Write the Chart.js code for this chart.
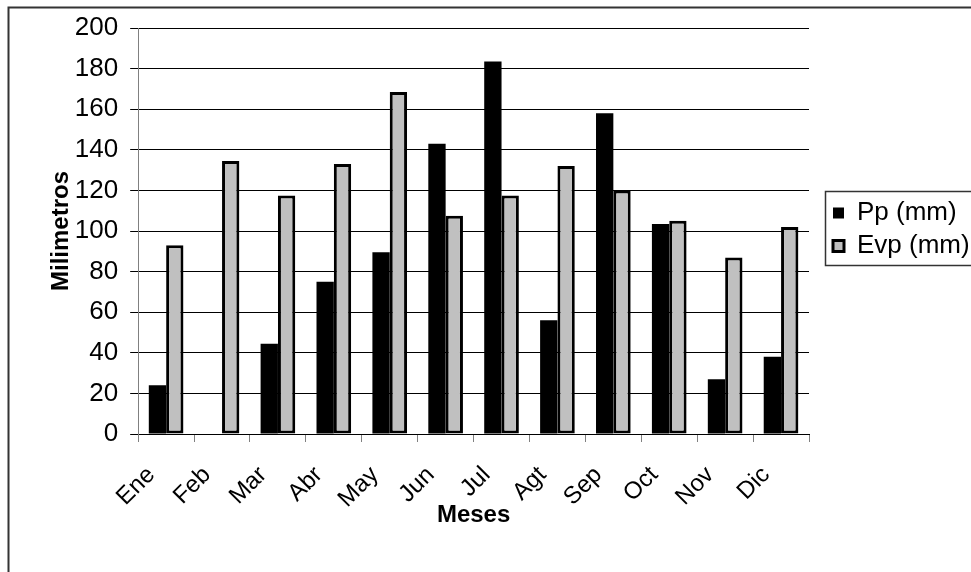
<!DOCTYPE html>
<html>
<head>
<meta charset="utf-8">
<title>Pp y Evp mensual</title>
<script src="https://cdn.jsdelivr.net/npm/chart.js@4.4.1/dist/chart.umd.min.js"></script>
<style>
  html, body { margin: 0; padding: 0; background: #fff; }
  #wrap { position: relative; width: 971px; height: 572px; }
</style>
</head>
<body>
<div id="wrap"><canvas id="balanceChart" width="971" height="572"></canvas></div>
<script>
// Datos (mm)
const meses = ['Ene', 'Feb', 'Mar', 'Abr', 'May', 'Jun', 'Jul', 'Agt', 'Sep', 'Oct', 'Nov', 'Dic'];
const ppMm = [24, 0, 44.5, 75, 89.5, 143, 183.5, 56, 158, 103.5, 27, 38];
const evpMm = [93, 134.5, 117.5, 133, 168.5, 107.5, 117.5, 132, 120, 105, 87, 102];

// Eje Y
const yMin = 0;
const yMax = 200;
const yStep = 20;

const FAMILY = "'Liberation Sans', Arial, sans-serif";

// Fondo blanco y marco exterior del gráfico
const marcoPlugin = {
    id: 'marco',
    beforeDraw(chart) {
        const ctx = chart.ctx;
        ctx.save();
        ctx.fillStyle = '#fff';
        ctx.fillRect(0, 0, chart.width, chart.height);
        ctx.strokeStyle = '#333';
        ctx.lineWidth = 2;
        ctx.strokeRect(8.5, 7.5, chart.width + 20, chart.height + 20);
        ctx.restore();
    }
};

// Leyenda centrada respecto al área de barras + recuadro
const marcoLeyenda = {
    id: 'marcoLeyenda',
    afterLayout(chart) {
        const lg = chart.legend;
        const area = chart.chartArea;
        if (!lg || !area) return;
        lg.top = area.top;
        lg.bottom = area.bottom - 3;
        lg.height = lg.bottom - lg.top;
    },
    afterDraw(chart) {
        const boxes = chart.legend && chart.legend.legendHitBoxes;
        if (!boxes || !boxes.length) return;
        const left = Math.min(...boxes.map(b => b.left)) - 8;
        const top = Math.min(...boxes.map(b => b.top)) - 9;
        const bottom = Math.max(...boxes.map(b => b.top + b.height)) + 6;
        const ctx = chart.ctx;
        ctx.save();
        ctx.strokeStyle = '#333';
        ctx.lineWidth = 1.5;
        ctx.strokeRect(Math.round(left) + 0.5, Math.round(top) + 0.5, chart.width, Math.round(bottom - top));
        ctx.restore();
    }
};

const ctx = document.getElementById('balanceChart').getContext('2d');

new Chart(ctx, {
    type: 'bar',
    data: {
        labels: meses,
        datasets: [
            {
                label: 'Pp (mm)',
                data: ppMm,
                backgroundColor: '#000',
                borderColor: '#000',
                borderWidth: 0
            },
            {
                label: 'Evp (mm)',
                data: evpMm,
                backgroundColor: '#C0C0C0',
                borderColor: '#000',
                borderWidth: 3,
                borderSkipped: false
            }
        ]
    },
    options: {
        responsive: false,
        animation: false,
        datasets: { bar: { categoryPercentage: 0.62, barPercentage: 1 } },
        layout: { padding: { left: 40, right: 0, top: 28, bottom: 32 } },
        plugins: {
            legend: {
                position: 'right',
                maxWidth: 145,
                labels: {
                    boxWidth: 11,
                    boxHeight: 11,
                    padding: 7,
                    color: '#000',
                    font: { family: FAMILY, size: 26 }
                }
            },
            tooltip: { enabled: false }
        },
        scales: {
            x: {
                grid: { offset: true, drawOnChartArea: false, color: '#808080', tickLength: 8 },
                border: { color: '#000', width: 1 },
                ticks: {
                    color: '#000',
                    font: { family: FAMILY, size: 24 },
                    maxRotation: 45,
                    minRotation: 45,
                    padding: 19,
                    labelOffset: -15
                },
                title: {
                    display: true,
                    text: 'Meses',
                    color: '#000',
                    font: { family: FAMILY, size: 24, weight: 'bold' },
                    padding: { top: 0, bottom: 10 }
                },
                // alto fijo del eje: etiquetas giradas y título se solapan como en el original
                afterFit(scale) { scale.height = 106; }
            },
            y: {
                min: yMin,
                max: yMax,
                ticks: {
                    stepSize: yStep,
                    color: '#000',
                    padding: 12,
                    font: { family: FAMILY, size: 26 }
                },
                grid: { color: '#000', tickColor: '#000', tickLength: 8 },
                border: { color: '#808080', width: 1 },
                title: {
                    display: true,
                    text: 'Milimetros',
                    color: '#000',
                    font: { family: FAMILY, size: 24, weight: 'bold' },
                    padding: { top: 7, bottom: -13 }
                }
            },
            // separación entre el área del gráfico y la leyenda
            sep: {
                type: 'linear',
                axis: 'y',
                position: 'right',
                display: true,
                grid: { display: false },
                ticks: { display: false },
                border: { display: false },
                afterFit(scale) { scale.width = 17; }
            }
        }
    },
    plugins: [marcoPlugin, marcoLeyenda]
});
</script>
</body>
</html>
